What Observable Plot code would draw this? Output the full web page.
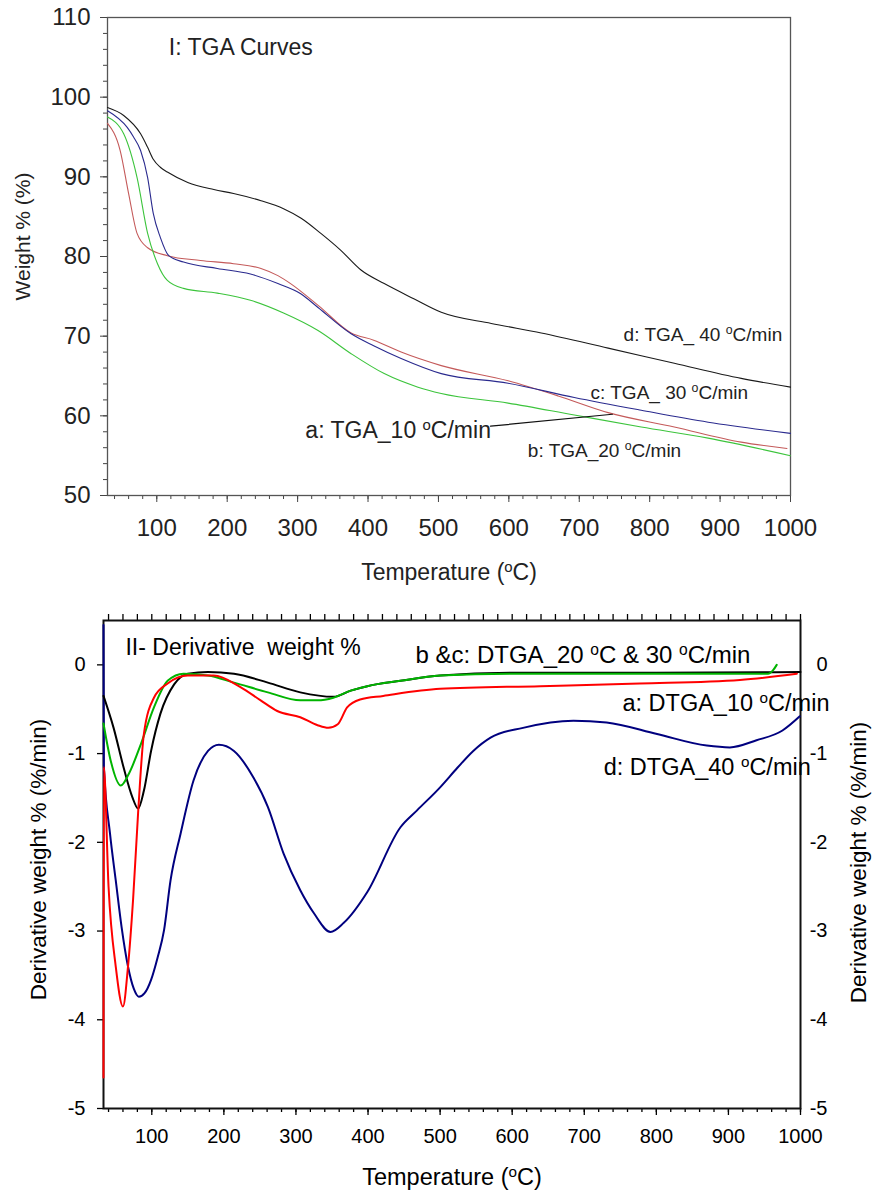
<!DOCTYPE html>
<html><head><meta charset="utf-8">
<script src="https://cdn.jsdelivr.net/npm/d3@7"></script>
<script src="https://cdn.jsdelivr.net/npm/@observablehq/plot@0.6"></script>
<style>
body{margin:0;background:#fff;font-family:"Liberation Sans",Arial,sans-serif;}
#chart svg{display:block}
</style></head><body><div id="chart"></div>
<script>
// ---------- Panel I: TGA curves (temperature °C, weight %) ----------
const tgaTempA = [30,48,60,72,87,115,162,209,248,272,290,330,376,408,447,504,599,670,741,835,930,995];
const tgaWeightA = [96.7,93.3,87.9,82.9,81.1,80.1,79.5,79.1,78.5,77.6,76.6,73.8,70.4,69.5,68,66.3,64.4,62.5,60.4,58.6,56.7,55.9];
const tgaTempB = [30,53,72,87,101,115,138,186,233,280,329,376,423,471,504,599,693,788,883,1000];
const tgaWeightB = [97.5,95.4,89.9,82.9,79.1,77,76,75.4,74.5,72.9,70.7,67.8,65.3,63.6,62.8,61.6,60.1,58.6,57.2,55];
const tgaTempC = [30,58,67,77,87,95,105,117,138,186,233,272,305,329,376,408,447,504,599,693,788,883,1000];
const tgaWeightC = [98.3,96.2,95.0,93.3,89.9,85.4,82.4,80.1,79.3,78.5,77.8,76.6,75.3,73.6,70.3,68.8,67.2,65.3,64.1,62.3,60.7,59.2,57.8];
const tgaTempD = [30,53,77,87,95,105,115,144,181,209,248,280,305,333,361,390,423,465,504,575,646,741,835,930,1000];
const tgaWeightD = [98.7,97.7,95.4,93.7,92.2,91.2,90.6,89.3,88.4,87.9,87,86,84.8,82.9,80.8,78.3,76.6,74.7,73,71.6,70.4,68.5,66.6,64.7,63.6];

// ---------- Panel II: DTGA curves (temperature °C, derivative %/min) ----------
const dtgTempA = [33,33.4,40,50,60,67,74,81,89,103,122,150,186,223,251,274,306,330,345,358,371,389,421,500,639,777,916,995];
const dtgValA = [-4.65,-1.15,-2.5,-3.4,-3.85,-3.4,-2.65,-1.67,-0.78,-0.37,-0.21,-0.12,-0.12,-0.25,-0.40,-0.52,-0.59,-0.68,-0.71,-0.67,-0.48,-0.39,-0.35,-0.27,-0.24,-0.21,-0.17,-0.10];
const dtgTempB = [33,43,57,68,85,103,122,144,178,214,261,306,330,352,376,399,445,500,600,800,955,962,967];
const dtgValB = [-0.66,-1.08,-1.36,-1.23,-0.89,-0.48,-0.18,-0.10,-0.12,-0.20,-0.31,-0.40,-0.40,-0.37,-0.29,-0.24,-0.18,-0.12,-0.10,-0.10,-0.10,-0.06,0.0];
const dtgTempC = [33,47,61,73,81,89,99,112,131,150,178,214,261,306,352,376,399,445,500,600,800,1000];
const dtgValC = [-0.35,-0.71,-1.16,-1.49,-1.62,-1.42,-0.97,-0.55,-0.22,-0.10,-0.08,-0.10,-0.20,-0.31,-0.36,-0.29,-0.24,-0.18,-0.12,-0.09,-0.09,-0.08];
const dtgTempD = [33,33.5,42,50,58,67,75,82,90,99,108,117,126,140,158,178,193,214,241,261,283,306,325,348,366,399,445,468,500,524,546,570,615,685,731,801,870,902,939,975,999];
const dtgValD = [0.45,-1.14,-1.9,-2.43,-2.95,-3.4,-3.65,-3.74,-3.7,-3.55,-3.3,-2.99,-2.43,-1.90,-1.30,-0.97,-0.90,-0.97,-1.27,-1.60,-2.13,-2.54,-2.80,-3.01,-2.91,-2.56,-1.83,-1.64,-1.38,-1.16,-0.97,-0.82,-0.71,-0.63,-0.65,-0.78,-0.91,-0.93,-0.85,-0.74,-0.58];

const xTicksMajor = [100,200,300,400,500,600,700,800,900,1000];
const xTicksMinor = d3.range(40, 1001, 20);
const tgaYTicks = [50,60,70,80,90,100,110];
const dtgYTicks = [-5,-4,-3,-2,-1,0];

const pts = (xs, ys, s) => xs.map((x, i) => ({T: x, v: ys[i], s}));
const tga = [
  ...pts(tgaTempA, tgaWeightA, "a"), ...pts(tgaTempB, tgaWeightB, "b"),
  ...pts(tgaTempC, tgaWeightC, "c"), ...pts(tgaTempD, tgaWeightD, "d")
];
const dtg = [
  ...pts(dtgTempD, dtgValD, "d"), ...pts(dtgTempC, dtgValC, "c"),
  ...pts(dtgTempB, dtgValB, "b"), ...pts(dtgTempA, dtgValA, "a")
];

const font = "Liberation Sans, Arial, sans-serif";

const p1 = Plot.plot({
  width: 881, height: 600,
  marginLeft: 107, marginRight: 91, marginTop: 17, marginBottom: 105,
  style: {fontFamily: font, fontSize: "24px", background: "white", overflow: "visible", color: "#222"},
  x: {domain: [30, 1000]},
  y: {domain: [50, 110]},
  marks: [
    Plot.axisX({ticks: xTicksMinor, tickSize: 4, text: null, label: null, stroke: "#444"}),
    Plot.axisX({ticks: xTicksMajor, tickSize: 7, tickPadding: 16, fontSize: 24, label: null, stroke: "#444", tickFormat: d => String(d)}),
    Plot.axisY({ticks: d3.range(52, 110, 2), tickSize: 4, text: null, label: null, stroke: "#444"}),
    Plot.axisY({ticks: tgaYTicks, tickSize: 7, tickPadding: 10, fontSize: 24, label: null, stroke: "#444", tickFormat: d => String(d)}),
    Plot.frame({stroke: "#555", strokeWidth: 1.3}),
    Plot.line(tga, {x: "T", y: "v", z: "s", curve: "monotone-x", strokeWidth: 1.1,
      stroke: d => ({a: "#c45a5a", b: "#3cc43c", c: "#2a2a8e", d: "#1a1a1a"})[d.s]}),
    Plot.line([{T: 574, v: 58.7}, {T: 747, v: 60.2}], {x: "T", y: "v", stroke: "#111", strokeWidth: 1.2}),
    Plot.text(["I: TGA Curves"], {x: 117, y: 106.2, text: d => d, textAnchor: "start", fontSize: 23}),
    Plot.text(["d: TGA_ 40 °C/min"], {x: 763, y: 70.1, text: d => d, textAnchor: "start", fontSize: 19}),
    Plot.text(["c: TGA_ 30 °C/min"], {x: 716, y: 62.9, text: d => d, textAnchor: "start", fontSize: 19}),
    Plot.text(["b: TGA_20 °C/min"], {x: 627, y: 55.65, text: d => d, textAnchor: "start", fontSize: 19}),
    Plot.text(["a: TGA_10 °C/min"], {x: 311, y: 58.2, text: d => d, textAnchor: "start", fontSize: 23}),
    Plot.text(["Weight % (%)"], {frameAnchor: "left", dx: -84, dy: -20, rotate: -90, textAnchor: "middle", lineAnchor: "middle", text: d => d, fontSize: 21}),
    Plot.text(["Temperature (°C)"], {frameAnchor: "bottom", dy: 77, lineAnchor: "middle", textAnchor: "middle", text: d => d, fontSize: 23})
  ]
});

const yTop = 0.5, yBottom = -5;
const p2 = Plot.plot({
  width: 881, height: 593,
  marginLeft: 103, marginRight: 81, marginTop: 20, marginBottom: 85,
  style: {fontFamily: font, fontSize: "20px", background: "white", overflow: "visible", color: "#000"},
  x: {domain: [33, 1000]},
  y: {domain: [yBottom, yTop]},
  marks: [
    // minor ticks above the top edge (outward), length ≈ 6px
    Plot.ruleX(xTicksMinor, {x: d => d, y1: yTop, y2: yTop + (yTop - yBottom) * 6 / 488, stroke: "#000", strokeWidth: 1.3}),
    Plot.axisX({ticks: xTicksMinor, tickSize: 4, text: null, label: null, strokeWidth: 1.3}),
    Plot.axisX({ticks: xTicksMajor, tickSize: 7, tickPadding: 13, fontSize: 20, label: null, strokeWidth: 1.3, tickFormat: d => String(d)}),
    Plot.axisY({ticks: dtgYTicks, tickSize: 6, tickPadding: 12, fontSize: 20, label: null, strokeWidth: 1.3, tickFormat: d => String(d)}),
    Plot.axisY({anchor: "right", ticks: dtgYTicks, tickSize: 0, tickPadding: 27, fontSize: 20, textAnchor: "end", label: null, tickFormat: d => String(d)}),
    Plot.frame({stroke: "#111", strokeWidth: 2}),
    Plot.line(dtg, {x: "T", y: "v", z: "s", curve: "monotone-x", strokeWidth: 2,
      stroke: d => ({a: "#ff0000", b: "#00b400", c: "#000000", d: "#00007f"})[d.s]}),
    Plot.text(["II- Derivative  weight %"], {x: 63.5, y: 0.196, text: d => d, textAnchor: "start", fontSize: 23}),
    Plot.text(["b &c: DTGA_20 °C & 30 °C/min"], {x: 466, y: 0.106, text: d => d, textAnchor: "start", fontSize: 24}),
    Plot.text(["a: DTGA_10 °C/min"], {x: 753, y: -0.435, text: d => d, textAnchor: "start", fontSize: 23.5}),
    Plot.text(["d: DTGA_40 °C/min"], {x: 727, y: -1.155, text: d => d, textAnchor: "start", fontSize: 23.5}),
    Plot.text(["Derivative weight % (%/min)"], {frameAnchor: "left", dx: -65, dy: -5, rotate: -90, textAnchor: "middle", lineAnchor: "middle", text: d => d, fontSize: 22.5}),
    Plot.text(["Derivative weight % (%/min)"], {frameAnchor: "right", dx: 58, dy: -2, rotate: -90, textAnchor: "middle", lineAnchor: "middle", text: d => d, fontSize: 22.5}),
    Plot.text(["Temperature (°C)"], {frameAnchor: "bottom", dy: 69, lineAnchor: "middle", textAnchor: "middle", text: d => d, fontSize: 23.5})
  ]
});

// superscript "o" for the degree sign, as in the original figure
function supO(svg) {
  const ns = "http://www.w3.org/2000/svg";
  svg.querySelectorAll("text").forEach(t => {
    const nodes = t.querySelectorAll("tspan").length ? [...t.querySelectorAll("tspan")] : [t];
    nodes.forEach(n => {
      const s = n.textContent;
      if (!s.includes("°")) return;
      n.textContent = "";
      s.split("°").forEach((part, i) => {
        if (i > 0) {
          const sup = document.createElementNS(ns, "tspan");
          sup.setAttribute("baseline-shift", "super");
          sup.setAttribute("font-size", "65%");
          sup.textContent = "o";
          n.appendChild(sup);
        }
        if (part) n.appendChild(document.createTextNode(part));
      });
    });
  });
}
supO(p1); supO(p2);
const root = document.getElementById("chart");
root.appendChild(p1);
root.appendChild(p2);
</script></body></html>
